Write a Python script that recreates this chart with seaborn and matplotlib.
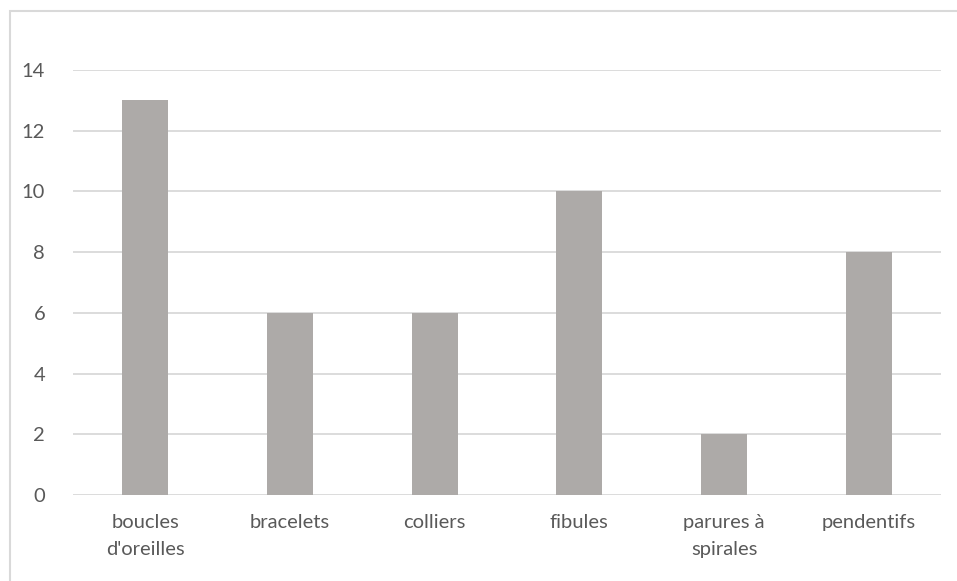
import seaborn as sns
import matplotlib.pyplot as plt
import matplotlib.patches as mpatches
import pandas as pd

# données
categories = ["boucles\nd'oreilles", "bracelets", "colliers", "fibules",
              "parures à\nspirales", "pendentifs"]
valeurs = [13, 6, 6, 10, 2, 8]

df = pd.DataFrame({"type": categories, "nombre": valeurs})

sns.set_style("white")
plt.rcParams['font.family'] = ['Lato', 'DejaVu Sans']

fig = plt.figure(figsize=(9.57, 5.81), dpi=100)
ax = fig.add_axes([73 / 957, 1 - 495 / 581, (941 - 73) / 957, (495 - 70) / 581])

sns.barplot(data=df, x="type", y="nombre", color="#ADAAA8", width=0.32,
            saturation=1, linewidth=0, ax=ax, zorder=3)

ax.set_ylim(0, 14)
ax.set_yticks(range(0, 15, 2))
ax.yaxis.grid(True, color="#D9D9D9", linewidth=1.3, zorder=0)
ax.set_axisbelow(True)
for s in ax.spines.values():
    s.set_visible(False)
ax.set_xlabel("")
ax.set_ylabel("")
ax.tick_params(axis="both", length=0, labelsize=14.5, colors="#595959")
ax.tick_params(axis="x", pad=14)
ax.tick_params(axis="y", pad=20)
for lab in ax.get_xticklabels():
    lab.set_linespacing(1.65)

# cadre du graphique
cadre = mpatches.Rectangle((9.5 / 957, -0.1), 1.1, 1 - 11 / 581 + 0.1,
                           transform=fig.transFigure, fill=False,
                           edgecolor="#D9D9D9", linewidth=1.5)
fig.patches.append(cadre)

fig.savefig("out.png", dpi=100)
